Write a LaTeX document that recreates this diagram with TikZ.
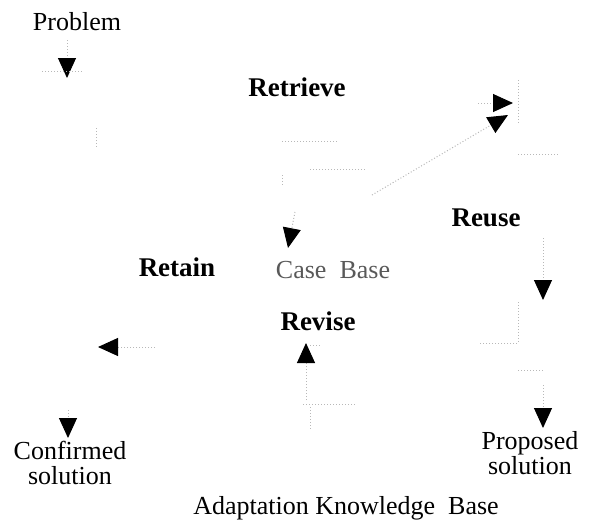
\documentclass[tikz,border=0pt]{standalone}
\usepackage{fontspec}
\setmainfont{Liberation Serif}
\usetikzlibrary{arrows.meta}

\begin{document}
\begin{tikzpicture}[
  x=0.5pt, y=-0.5pt,
  txt/.style={font=\fontsize{13}{12.5}\selectfont, align=center, inner sep=0pt},
  phase/.style={font=\fontsize{13.5}{15}\selectfont\bfseries, inner sep=0pt},
  faint/.style={draw=black!28, densely dotted, line width=0.5pt},
  head/.style={faint, -{Triangle[length=10pt, width=9pt, color=black, fill=black]}},
]
\useasboundingbox (0,0) rectangle (590,521);

% ==================== labels ====================
\node[txt] (prob) at (77,22) {Problem};
\node[phase] (retrieve) at (297,87) {Retrieve};
\node[phase] (reuse) at (486,218) {Reuse};
\node[phase] (retain) at (177,267) {Retain};
\node[txt, text=black!65] (cb) at (333,270) {Case\ \ Base};
\node[phase] (revise) at (318,321) {Revise};
\node[txt] (conf) at (70,463) {Confirmed\\solution};
\node[txt] (prop) at (530,453) {Proposed\\solution};
\node[txt] (akb) at (346,508) {Adaptation Knowledge\ \ Base};

% ==================== arrow ends ====================
\coordinate (pA) at (67,40);   \coordinate (pB) at (67,78);
\coordinate (rA) at (478,103); \coordinate (rB) at (513,103);
\coordinate (dA) at (372,195); \coordinate (dB) at (508,115);
\coordinate (cA) at (295,212); \coordinate (cB) at (288,248);
\coordinate (uA) at (543,238); \coordinate (uB) at (543,300);
\coordinate (sA) at (543,385); \coordinate (sB) at (543,428);
\coordinate (vA) at (306,400); \coordinate (vB) at (306,343);
\coordinate (tA) at (155,347); \coordinate (tB) at (98,347);
\coordinate (fA) at (68,410);  \coordinate (fB) at (68,438);

% ==================== arrows ====================
\draw[head] (pA) -- (pB);
\draw[head] (rA) -- (rB);
\draw[head] (dA) -- (dB);
\draw[head] (cA) -- (cB);
\draw[head] (uA) -- (uB);
\draw[head] (sA) -- (sB);
\draw[head] (vA) -- (vB);
\draw[head] (tA) -- (tB);
\draw[head] (fA) -- (fB);

% ==================== faded line fragments ====================
\draw[faint] (42,71) -- (84,71);
\draw[faint] (96,128) -- (96,148);
\draw[faint] (282,141) -- (337,141);
\draw[faint] (310,169) -- (367,169);
\draw[faint] (282,175) -- (282,187);
\draw[faint] (518,80) -- (518,125);
\draw[faint] (518,154) -- (558,154);
\draw[faint] (518,302) -- (518,343) -- (480,343);
\draw[faint] (518,370) -- (545,370);
\draw[faint] (310,345) -- (320,345);
\draw[faint] (303,404) -- (355,404);
\draw[faint] (310,407) -- (310,430);

\end{tikzpicture}
\end{document}
